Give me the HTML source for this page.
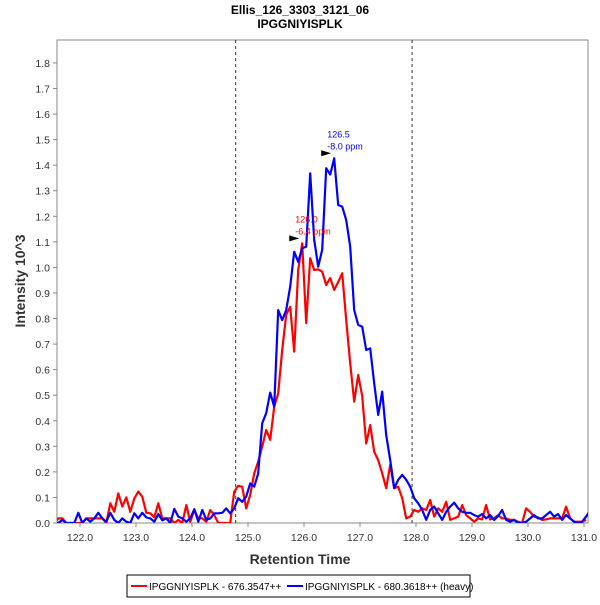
<!DOCTYPE html>
<html><head><meta charset="utf-8"><style>
body{margin:0;background:#fff;font-family:"Liberation Sans",sans-serif}
</style></head><body>
<svg id="c" width="600" height="600" xmlns="http://www.w3.org/2000/svg" font-family="Liberation Sans, sans-serif">
<text x="300" y="14" text-anchor="middle" font-size="12" font-weight="bold">Ellis_126_3303_3121_06</text>
<text x="300" y="28" text-anchor="middle" font-size="12" font-weight="bold">IPGGNIYISPLK</text>
<rect x="57" y="40" width="531" height="483" fill="#fff" stroke="#888"/>
<defs><clipPath id="clip"><rect x="57" y="40" width="531" height="483"/></clipPath></defs>
<g id="axes"></g>
<g id="series" clip-path="url(#clip)"></g>
<text x="300" y="564" text-anchor="middle" font-size="14" font-weight="bold" fill="#333">Retention Time</text>
<text transform="translate(25,281) rotate(-90)" text-anchor="middle" font-size="14" font-weight="bold" fill="#333">Intensity 10^3</text>
<g>
<rect x="127" y="575" width="343" height="22" fill="#fff" stroke="#000"/>
<line x1="131" y1="586" x2="147" y2="586" stroke="red" stroke-width="2"/>
<text x="149" y="590" font-size="10">IPGGNIYISPLK - 676.3547++</text>
<line x1="287" y1="586" x2="303" y2="586" stroke="blue" stroke-width="2"/>
<text x="305" y="590" font-size="10">IPGGNIYISPLK - 680.3618++ (heavy)</text>
</g>
</svg>
<script>
const xTicks=[122,123,124,125,126,127,128,129,130,131];
const yTicks=[0,0.1,0.2,0.3,0.4,0.5,0.6,0.7,0.8,0.9,1.0,1.1,1.2,1.3,1.4,1.5,1.6,1.7,1.8];
const boundaries=[124.78,127.93];
const tStart=121.47, tStep=0.0714;
const blue=[0.018,0,0,0.012,0,0,0,0.04,0,0.018,0.005,0.018,0.04,0.018,0.005,0.04,0.012,0,0.018,0.005,0,0.038,0.018,0.04,0.022,0.018,0.005,0.035,0.01,0.018,0,0.055,0.025,0.018,0.005,0.018,0.054,0.005,0.051,0.012,0.018,0.038,0.038,0.04,0.057,
0.038,0.057,0.097,0.083,0.103,0.155,0.142,0.194,0.39,0.43,0.51,0.455,0.833,0.794,0.833,0.925,1.061,1.022,1.075,1.081,1.368,1.108,1.003,1.069,1.388,1.363,1.427,1.244,1.238,1.185,1.081,0.833,0.775,0.768,0.677,0.683,0.547,0.423,0.514,0.344,0.246,0.136,0.169,0.188,0.169,0.142,0.097,0.077,0.051,0.012,0.051,0.064,
0.038,0.012,0.044,0.064,0.08,0.057,0.044,0.04,0.04,0.031,0.025,0.035,0.018,0.031,0.012,0.027,0.051,0.012,0.005,0.012,0,0,0.005,0.018,0.031,0.018,0.018,0.031,0.044,0.025,0.035,0.012,0.031,0.018,0.005,0,0.005,0.025,0.048,0.044,0.025,0.035,0.025,0.057];
const red=[0,0,0.018,0.018,0,0,0,0,0,0.018,0.018,0.018,0.018,0.018,0,0.077,0.044,0.116,0.064,0.1,0.044,0.096,0.123,0.103,0.04,0.038,0.022,0.077,0.018,0.018,0.018,0,0.012,0,0.07,0.005,0.051,0.018,0.018,0.005,0.051,0.031,0,0,0,
0,0.122,0.145,0.142,0.057,0.11,0.194,0.24,0.299,0.364,0.325,0.455,0.507,0.677,0.814,0.846,0.67,0.99,1.094,0.782,1.036,0.99,0.992,0.983,0.931,0.958,0.912,0.943,0.977,0.794,0.625,0.475,0.579,0.497,0.311,0.383,0.279,0.246,0.194,0.136,0.227,0.136,0.142,0.097,0.018,0.025,0.051,0.044,0.057,0.051,0.09,
0.025,0.057,0.044,0.083,0.012,0.018,0.025,0.07,0.031,0.018,0.005,0.018,0.014,0.07,0.014,0.018,0.031,0.018,0.018,0.012,0.012,0.005,0,0.057,0.044,0.025,0.022,0.012,0.014,0.018,0.018,0.018,0.018,0.064,0.018,0.005,0.005,0.005,0.012];
const X=t=>80+(t-122)*56;
const Y=v=>523-v*255.6;
const NS="http://www.w3.org/2000/svg";
function mk(tag,attrs,parent,txt){const e=document.createElementNS(NS,tag);for(const k in attrs)e.setAttribute(k,attrs[k]);if(txt!==undefined)e.textContent=txt;parent.appendChild(e);return e;}
const ax=document.getElementById('axes'), sg=document.getElementById('series');
xTicks.forEach(t=>{
  const l=mk('line',{x1:X(t),x2:X(t),y1:523,y2:527,stroke:'#888'},ax);
  
  
  const tx=mk('text',{x:X(t),y:541,'text-anchor':'middle','font-size':10.5,fill:'#333'},ax,t.toFixed(1));
  
  
});
yTicks.forEach(v=>{
  const l=mk('line',{x1:53,x2:57,y1:Y(v),y2:Y(v),stroke:'#888'},ax);
  
  
  const tx=mk('text',{x:50,y:Y(v)+4,'text-anchor':'end','font-size':10.5,fill:'#333'},ax,v.toFixed(1));
  
  
});
boundaries.forEach(b=>{
  const l=mk('line',{x1:X(b),x2:X(b),y1:40,y2:523,stroke:'#333','stroke-dasharray':'3,3'},ax);
  
  
});
function line(vals,color,name){
  const pts=vals.map((v,i)=>X(tStart+i*tStep).toFixed(1)+','+Y(v).toFixed(1)).join(' ');
  const p=mk('polyline',{points:pts,fill:'none',stroke:color,'stroke-width':2.2,'stroke-linejoin':'round'},sg);
  
  
}
line(red,'red','light-series-line');
line(blue,'blue','heavy-series-line');
function annot(vals,color,lab1,lab2,name){
  let mi=0;vals.forEach((v,i)=>{if(v>vals[mi])mi=i;});
  const x=X(tStart+mi*tStep), y=Y(vals[mi]);
  const g=mk('g',{},sg);
  
  
  mk('polygon',{points:`${x-13},${y-8} ${x-3},${y-5} ${x-13},${y-2}`,fill:'#000'},g);
  mk('text',{x:x-7,y:y-21,'font-size':9,fill:color},g,lab1);
  mk('text',{x:x-7,y:y-9,'font-size':9,fill:color},g,lab2);
}
annot(red,'red','126.0','-6.4 ppm','light-peak-annotation');
annot(blue,'blue','126.5','-8.0 ppm','heavy-peak-annotation');
</script>
</body></html>
